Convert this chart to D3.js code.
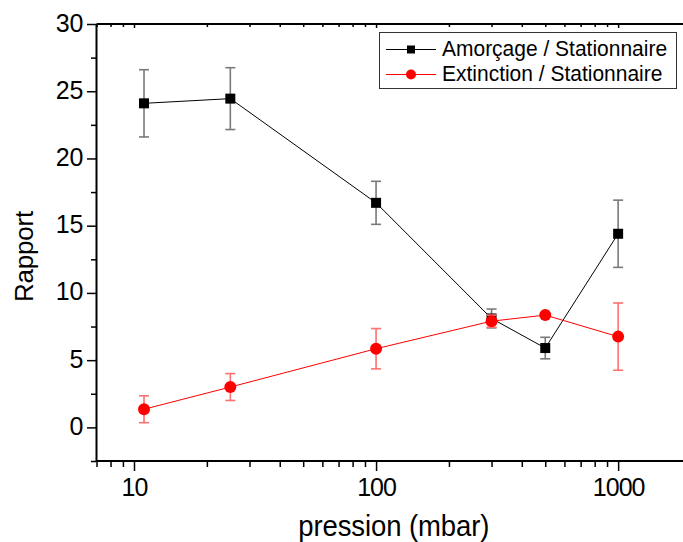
<!DOCTYPE html>
<html>
<head>
<meta charset="utf-8">
<script src="https://cdn.jsdelivr.net/npm/d3@7/dist/d3.min.js"></script>
<style>
  html, body { margin: 0; padding: 0; background: #fff; }
  svg { display: block; }
  text { font-family: "Liberation Sans", Arial, Helvetica, sans-serif; fill: #000; }
</style>
</head>
<body>
<svg id="chart" width="683" height="542"></svg>
<script>
// ---- Data ----
const pressure = [11, 25, 100, 300, 500, 1000];
const amorcage = [24.1, 24.45, 16.7, 8.1, 5.9, 14.4];
const amorcageErr = [2.5, 2.3, 1.6, 0.7, 0.8, 2.5];
const extinction = [1.35, 3.0, 5.85, 7.9, 8.35, 6.75];
const extinctionErr = [1.0, 1.0, 1.5, 0.45, 0.0, 2.5];
const seriesNames = ["Amorçage / Stationnaire", "Extinction / Stationnaire"];
const xMajorTicks = [10, 100, 1000];
const xMinorTicks = [7, 8, 9, 20, 30, 40, 50, 60, 70, 80, 90, 200, 300, 400, 500, 600, 700, 800, 900, 2000];
const yMajorTicks = [0, 5, 10, 15, 20, 25, 30];
const yMinorTicks = [-2.5, 2.5, 7.5, 12.5, 17.5, 22.5, 27.5];
const xTitle = "pression (mbar)";
const yTitle = "Rapport";

// ---- Layout ----
const svg = d3.select("#chart");
const pLeft = 96.5, pRight = 691, pTop = 24, pBottom = 461;

const x = d3.scaleLog().domain([7, 2000]).range([pLeft, pRight]);
const y = d3.scaleLinear().domain([-2.5, 30]).range([pBottom, pTop]);

const axisColor = "#000";

// Bottom axis
const gx = svg.append("g").attr("transform", `translate(0,${pBottom})`);
gx.call(d3.axisBottom(x).tickValues(xMajorTicks).tickSize(10).tickFormat(d3.format("d")));
gx.append("g").call(d3.axisBottom(x).tickValues(xMinorTicks).tickSize(6).tickFormat(""));
gx.selectAll(".domain").remove();
gx.selectAll("line").attr("stroke", axisColor).attr("stroke-width", 1.5);
gx.selectAll("text").attr("font-size", 25).attr("y", 35).attr("dy", 0).attr("letter-spacing", -1);

// Top axis (inward ticks)
const gt = svg.append("g").attr("transform", `translate(0,${pTop})`);
gt.call(d3.axisBottom(x).tickValues(xMajorTicks).tickSize(4).tickFormat(""));
gt.append("g").call(d3.axisBottom(x).tickValues(xMinorTicks).tickSize(3).tickFormat(""));
gt.selectAll(".domain").remove();
gt.selectAll("line").attr("stroke", axisColor).attr("stroke-width", 1.5);

// Left axis
const gy = svg.append("g").attr("transform", `translate(${pLeft},0)`);
gy.call(d3.axisLeft(y).tickValues(yMajorTicks).tickSize(9.5).tickFormat(d3.format("d")));
gy.append("g").call(d3.axisLeft(y).tickValues(yMinorTicks).tickSize(5.5).tickFormat(""));
gy.selectAll(".domain").remove();
gy.selectAll("line").attr("stroke", axisColor).attr("stroke-width", 1.5);
gy.selectAll("text").attr("font-size", 25).attr("x", -13.5).attr("dy", "0.28em").attr("letter-spacing", -0.3);

// Frame lines
svg.append("line").attr("x1", pLeft).attr("x2", pLeft).attr("y1", pTop).attr("y2", pBottom)
  .attr("stroke", axisColor).attr("stroke-width", 2);
svg.append("line").attr("x1", pLeft).attr("x2", pRight).attr("y1", pBottom).attr("y2", pBottom)
  .attr("stroke", axisColor).attr("stroke-width", 2);
svg.append("line").attr("x1", pLeft).attr("x2", pRight).attr("y1", pTop).attr("y2", pTop)
  .attr("stroke", axisColor).attr("stroke-width", 2);
svg.append("line").attr("x1", pRight).attr("x2", pRight).attr("y1", pTop).attr("y2", pBottom)
  .attr("stroke", axisColor).attr("stroke-width", 2);

// Titles
svg.append("text").attr("transform", `translate(${(pLeft + pRight) / 2},536) scale(1,1.08)`)
  .attr("text-anchor", "middle").attr("font-size", 27.5).attr("letter-spacing", -0.1).text(xTitle);
svg.append("text").attr("transform", "translate(33,256.5) rotate(-90)")
  .attr("text-anchor", "middle").attr("font-size", 26).attr("letter-spacing", -0.2).text(yTitle);

// ---- Series ----
const series = [
  { name: seriesNames[0], vals: amorcage, err: amorcageErr, color: "#000", errColor: "#7a7a7a", shape: "square" },
  { name: seriesNames[1], vals: extinction, err: extinctionErr, color: "#ff0000", errColor: "#ff7070", shape: "circle" }
];

const line = d3.line().x(d => x(d.p)).y(d => y(d.v));

series.forEach(s => {
  const pts = pressure.map((p, i) => ({ p, v: s.vals[i], e: s.err[i] }));
  const g = svg.append("g");
  // error bars
  pts.filter(d => d.e > 0).forEach(d => {
    const cx = x(d.p);
    g.append("line").attr("x1", cx).attr("x2", cx).attr("y1", y(d.v - d.e)).attr("y2", y(d.v + d.e))
      .attr("stroke", s.errColor).attr("stroke-width", 1.6);
    [d.v - d.e, d.v + d.e].forEach(v => {
      g.append("line").attr("x1", cx - 5).attr("x2", cx + 5).attr("y1", y(v)).attr("y2", y(v))
        .attr("stroke", s.errColor).attr("stroke-width", 1.6);
    });
  });
  // line
  g.append("path").datum(pts).attr("d", line).attr("fill", "none")
    .attr("stroke", s.color).attr("stroke-width", 1);
  // markers
  if (s.shape === "square") {
    g.selectAll("rect").data(pts).enter().append("rect")
      .attr("x", d => x(d.p) - 5).attr("y", d => y(d.v) - 5)
      .attr("width", 10).attr("height", 10).attr("fill", s.color);
  } else {
    g.selectAll("circle").data(pts).enter().append("circle")
      .attr("cx", d => x(d.p)).attr("cy", d => y(d.v)).attr("r", 6).attr("fill", s.color);
  }
});

// ---- Legend ----
const lg = svg.append("g");
lg.append("rect").attr("x", 379.5).attr("y", 32.5).attr("width", 297).attr("height", 56)
  .attr("fill", "#fff").attr("stroke", "#333").attr("stroke-width", 1);
series.forEach((s, i) => {
  const cy = 49.5 + i * 25;
  lg.append("line").attr("x1", 386).attr("x2", 436).attr("y1", cy).attr("y2", cy)
    .attr("stroke", s.color).attr("stroke-width", 1);
  if (s.shape === "square") {
    lg.append("rect").attr("x", 407).attr("y", cy - 4).attr("width", 8).attr("height", 8).attr("fill", s.color);
  } else {
    lg.append("circle").attr("cx", 411).attr("cy", cy).attr("r", 5).attr("fill", s.color);
  }
  lg.append("text").attr("transform", `translate(442,${cy + 6.5}) scale(1,1.03)`)
    .attr("font-size", 21).attr("letter-spacing", 0).text(s.name);
});
</script>
</body>
</html>
